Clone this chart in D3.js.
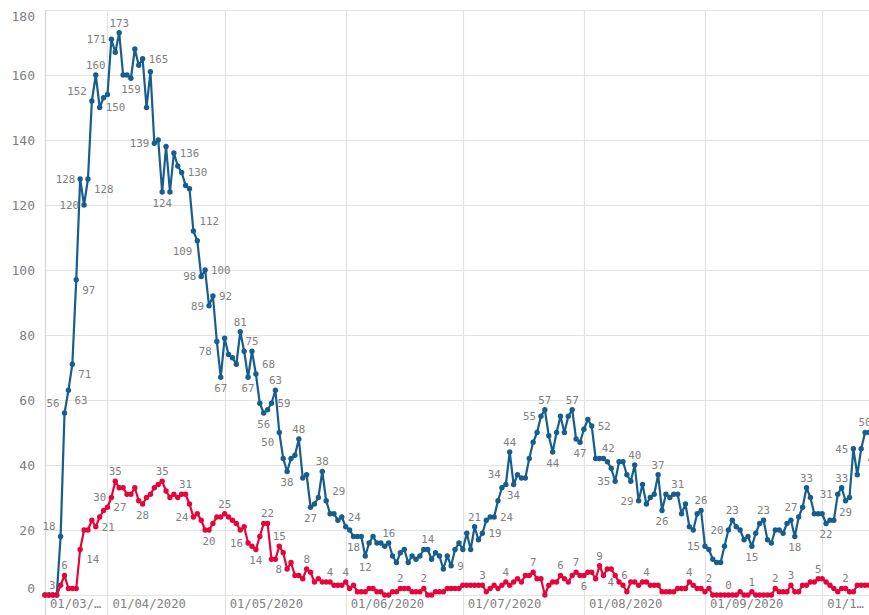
<!DOCTYPE html>
<html>
<head>
<meta charset="utf-8">
<script src="https://cdn.jsdelivr.net/npm/d3@7"></script>
<style>
  html, body { margin: 0; padding: 0; background: #ffffff; }
  svg { display: block; }
</style>
</head>
<body>
<svg id="chart" width="869" height="615"></svg>
<script>
// ---------------- DATA ----------------
const startDate = "2020-03-16";   // first day of the series (daily values)

const blueValues = [
  0,0,0,0,18,56,63,71,97,128,
  120,128,152,160,150,153,154,171,167,173,
  160,160,159,168,163,165,150,161,139,140,
  124,138,124,136,132,130,126,125,112,109,
  98,100,89,92,78,67,79,74,73,71,
  81,75,67,75,68,59,56,57,59,63,
  50,42,38,42,43,48,36,37,27,28,
  30,38,29,25,25,23,24,21,20,18,
  18,18,12,16,18,16,16,15,16,12,
  10,13,14,10,12,11,12,14,14,11,
  13,12,8,12,9,14,16,14,19,14,
  21,17,19,23,24,24,29,33,34,44,
  34,37,36,36,42,47,50,55,57,49,
  44,50,55,50,55,57,48,47,51,54,
  52,42,42,42,41,39,35,41,41,37,
  35,40,29,34,28,30,31,37,26,31,
  30,31,31,25,28,21,20,25,26,15,
  14,11,10,10,15,20,23,21,20,17,
  18,15,19,22,23,17,16,20,20,19,
  22,23,18,24,27,33,30,25,25,25,
  22,23,23,31,33,29,30,45,37,45,
  50,50
];

const redValues = [
  0,0,0,0,3,6,2,2,2,14,
  20,20,23,21,24,26,27,30,35,33,
  33,31,31,33,29,28,30,31,33,34,
  35,32,30,31,30,31,31,28,24,25,
  23,20,20,22,24,24,25,24,23,22,
  20,21,16,15,14,18,22,22,11,11,
  15,13,8,10,6,6,5,8,7,4,
  5,4,4,4,3,3,3,4,2,3,
  1,1,1,2,2,1,1,0,0,1,
  1,2,2,2,1,1,1,2,0,0,
  1,1,1,2,2,2,2,3,3,3,
  3,3,3,1,2,3,2,3,4,3,
  4,5,4,6,6,7,5,5,0,3,
  4,4,6,5,4,6,7,6,6,7,
  7,5,9,6,8,8,6,4,3,1,
  4,4,3,4,4,3,3,3,1,1,
  1,1,2,2,2,4,3,2,2,1,
  2,0,0,0,0,0,0,0,1,0,
  0,1,0,0,0,0,0,2,1,1,
  1,3,1,1,3,3,4,4,5,5,
  4,3,2,1,2,2,1,1,3,3,
  3,3
];

// labelled points: day index and placement code (t, b, l, r, lt, lb, rt, rb)
const blueLabelIdx   = [4,5,6,7,8,9,10,11,12,13,14,17,19,22,25,28,30,33,35,38,39,40,41,42,43,44,45,50,52,53,54,56,58,59,60,62,65,68,71,72,76,79,82,88,98,104,110,112,115,118,119,120,127,128,130,135,137,140,141,146,151,152,157,158,162,168,169,175,176,181,184,192,194,195,200,203,204,205,207,209,210];
const blueLabelPlace = ["lt","lt","rb","rb","rb","l","l","rb","lt","t","r","l","t","b","r","l","b","r","r","rt","lb","l","r","l","r","lb","b","t","b","t","rt","b","r","t","lb","b","t","b","t","rt","r","b","b","t","t","r","t","r","r","lt","t","b","l","t","b","t","b","r","rt","l","t","l","t","b","t","t","l","l","t","b","t","b","l","t","b","l","t","b","l","rb","t"];

const redLabelIdx   = [4,5,9,13,16,17,18,25,30,36,38,42,46,52,54,57,60,62,67,73,77,91,97,112,118,125,132,136,138,142,146,147,154,165,170,175,181,187,191,198,205];
const redLabelPlace = ["l","t","rb","r","r","l","t","b","t","t","l","b","t","l","b","t","t","l","t","t","t","t","t","t","t","t","t","t","b","t","r","l","t","t","t","t","t","t","t","t","t"];

const yTicks = [0,20,40,60,80,100,120,140,160,180];
const xTickDates  = ["2020-03-01","2020-04-01","2020-05-01","2020-06-01","2020-07-01","2020-08-01","2020-09-01","2020-10-01"];
const xTickLabels = ["01/03/…","01/04/2020","01/05/2020","01/06/2020","01/07/2020","01/08/2020","01/09/2020","01/1…"];

// ---------------- CHART ----------------
const W = 869, H = 615;
const plot = { left: 45, right: 869, top: 10, bottom: 595 };
const BLUE = "#175d8d", RED = "#e5053a";
const GRID = "#e3e3e3", TXT = "#808080";
const MONO = "'DejaVu Sans Mono', monospace";

const parse = d3.timeParse("%Y-%m-%d");
const t0 = parse(startDate);
const dates = blueValues.map((_, i) => d3.timeDay.offset(t0, i));

const x = d3.scaleTime()
  .domain([t0, dates[dates.length - 1]])
  .range([plot.left, plot.right]);
const y = d3.scaleLinear().domain([0, 180]).range([plot.bottom, plot.top]);

const svg = d3.select("#chart");

// horizontal grid
svg.append("g").selectAll("line").data(yTicks).join("line")
  .attr("x1", plot.left).attr("x2", W)
  .attr("y1", d => Math.round(y(d)) + 0.5).attr("y2", d => Math.round(y(d)) + 0.5)
  .attr("stroke", GRID).attr("stroke-width", 1.2);

// vertical grid (month starts) + left axis line
const tickX = xTickDates.map(s => Math.max(plot.left, x(parse(s))));
svg.append("g").selectAll("line").data(tickX).join("line")
  .attr("x1", d => Math.round(d) + 0.5).attr("x2", d => Math.round(d) + 0.5)
  .attr("y1", plot.top).attr("y2", H)
  .attr("stroke", d => d === plot.left ? "#d6d6d6" : GRID).attr("stroke-width", 1.2);

// y labels
svg.append("g").selectAll("text").data(yTicks).join("text")
  .attr("x", 35)
  .attr("y", d => {
    let yy = y(d);
    if (d === 0) yy -= 7;
    if (d === 180) yy += 6;
    return yy;
  })
  .attr("dy", "0.35em")
  .attr("text-anchor", "end")
  .attr("font-family", MONO).attr("font-size", 13)
  .attr("fill", TXT)
  .text(d => d);

// x labels
svg.append("g").selectAll("text").data(xTickLabels).join("text")
  .attr("x", (d, i) => tickX[i] + 5)
  .attr("y", 604)
  .attr("dy", "0.35em")
  .attr("font-family", MONO).attr("font-size", 12.2)
  .attr("fill", TXT)
  .text(d => d);

function drawSeries(values, color) {
  const line = d3.line().x((d, i) => x(dates[i])).y(d => y(d));
  svg.append("path").datum(values)
    .attr("d", line).attr("fill", "none")
    .attr("stroke", color).attr("stroke-width", 2.2)
    .attr("stroke-linejoin", "round");
  svg.append("g").selectAll("circle").data(values).join("circle")
    .attr("cx", (d, i) => x(dates[i])).attr("cy", d => y(d))
    .attr("r", 2.7).attr("fill", color);
}

function drawLabels(values, idx, place) {
  const g = svg.append("g")
    .attr("font-family", MONO).attr("font-size", 10.8).attr("fill", TXT);
  idx.forEach((i, k) => {
    const p = place[k];
    const px = x(dates[i]), py = y(values[i]);
    let tx = px, ty = py, anchor = "middle";
    if (p.includes("l")) { tx = px - 5; anchor = "end"; }
    if (p.includes("r")) { tx = px + 6; anchor = "start"; }
    if (p === "t") ty = py - 10;
    if (p === "b") ty = py + 11;
    if (p === "lt" || p === "rt") ty = py - 10;
    if (p === "lb" || p === "rb") ty = py + 10;
    g.append("text")
      .attr("x", tx).attr("y", ty).attr("dy", "0.35em")
      .attr("text-anchor", anchor)
      .text(values[i]);
  });
}

drawSeries(blueValues, BLUE);
drawSeries(redValues, RED);
drawLabels(blueValues, blueLabelIdx, blueLabelPlace);
drawLabels(redValues, redLabelIdx, redLabelPlace);
</script>
</body>
</html>
